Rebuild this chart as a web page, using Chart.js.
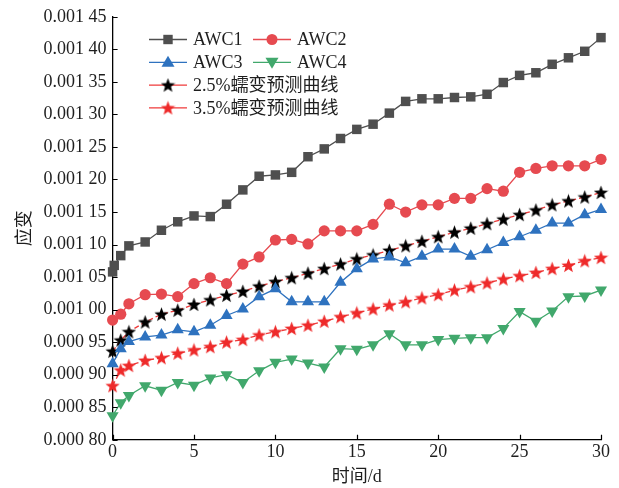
<!DOCTYPE html>
<html>
<head>
<meta charset="utf-8">
<script src="https://cdn.jsdelivr.net/npm/chart.js@4.4.1/dist/chart.umd.min.js"></script>
<style>
  html, body { margin: 0; padding: 0; background: #fff; }
  #wrap { width: 619px; height: 488px; }
</style>
</head>
<body>
<div id="wrap"><canvas id="c" width="619" height="488"></canvas></div>
<script>
// days of measurement
const daysAWC1 = [0, 0.1, 0.5, 1, 2, 3, 4, 5, 6, 7, 8, 9, 10, 11, 12, 13, 14, 15, 16, 17, 18, 19, 20, 21, 22, 23, 24, 25, 26, 27, 28, 29, 30];
const days = [0, 0.5, 1, 2, 3, 4, 5, 6, 7, 8, 9, 10, 11, 12, 13, 14, 15, 16, 17, 18, 19, 20, 21, 22, 23, 24, 25, 26, 27, 28, 29, 30];

const awc1 = [0.001058, 0.001068, 0.001083, 0.001098, 0.001104, 0.001122, 0.001135, 0.001144, 0.001143, 0.001162, 0.001184,
  0.001205, 0.001207, 0.001211, 0.001235, 0.001247, 0.001263, 0.001277, 0.001285, 0.001302, 0.001320, 0.001324,
  0.001324, 0.001326, 0.001327, 0.001331, 0.001349, 0.001360, 0.001364, 0.001377, 0.001387, 0.001397, 0.001418];
const awc2 = [0.000984, 0.000993, 0.001009, 0.001023, 0.001024, 0.001020, 0.001040, 0.001049, 0.001040, 0.001070, 0.001081,
  0.001107, 0.001108, 0.001101, 0.001121, 0.001121, 0.001121, 0.001131, 0.001162, 0.001150, 0.001161, 0.001161,
  0.001171, 0.001171, 0.001186, 0.001182, 0.001211, 0.001217, 0.001221, 0.001221, 0.001221, 0.001231];
const awc3 = [0.000917, 0.000940, 0.000951, 0.000958, 0.000961, 0.000969, 0.000966, 0.000976, 0.000991, 0.001001, 0.001020,
  0.001032, 0.001012, 0.001012, 0.001012, 0.001042, 0.001063, 0.001078, 0.001081, 0.001072, 0.001082, 0.001093,
  0.001093, 0.001082, 0.001092, 0.001103, 0.001112, 0.001122, 0.001133, 0.001133, 0.001146, 0.001154];
const awc4 = [0.000837, 0.000857, 0.000868, 0.000883, 0.000876, 0.000888, 0.000884, 0.000895, 0.000900, 0.000888, 0.000906,
  0.000919, 0.000924, 0.000918, 0.000912, 0.000940, 0.000939, 0.000946, 0.000963, 0.000946, 0.000946, 0.000954,
  0.000956, 0.000957, 0.000957, 0.000971, 0.000997, 0.000982, 0.000998, 0.001020, 0.001021, 0.001030];
const pred25 = [0.000936, 0.000953, 0.000966, 0.000981, 0.000993, 0.000999, 0.001008, 0.001015, 0.001022, 0.001028, 0.001036,
  0.001043, 0.001049, 0.001056, 0.001063, 0.001070, 0.001078, 0.001084, 0.001091, 0.001098, 0.001105, 0.001112,
  0.001119, 0.001125, 0.001132, 0.001139, 0.001146, 0.001153, 0.001161, 0.001167, 0.001173, 0.001180];
const pred35 = [0.000883, 0.000907, 0.000914, 0.000922, 0.000926, 0.000933, 0.000938, 0.000943, 0.000950, 0.000954, 0.000961,
  0.000966, 0.000971, 0.000976, 0.000982, 0.000989, 0.000995, 0.001001, 0.001007, 0.001012, 0.001018, 0.001023,
  0.001030, 0.001035, 0.001041, 0.001047, 0.001052, 0.001057, 0.001063, 0.001068, 0.001075, 0.001080];

const labels = ['AWC1', 'AWC2', 'AWC3', 'AWC4', '2.5%蠕变预测曲线', '3.5%蠕变预测曲线'];
const xTicks = [0, 5, 10, 15, 20, 25, 30];
const yTicks = [0.0008, 0.00085, 0.0009, 0.00095, 0.001, 0.00105, 0.0011, 0.00115, 0.0012, 0.00125, 0.0013, 0.00135, 0.0014, 0.00145];

const FONT = '"Liberation Serif", "Noto Sans CJK SC", serif';
const GRAY = '#4f4f4f', RED = '#e64a50', BLUE = '#2e72bf', GREEN = '#41a86c', STARRED = '#ee2a2a', DASH = '#ef3a3a';
const TXT = '#1e1e1e';

function pts(xs, ys) { return ys.map((v, i) => ({ x: xs[i], y: v })); }

function makeStar(color, size) {
  const c = document.createElement('canvas');
  c.width = size; c.height = size;
  const g = c.getContext('2d');
  const cx = size / 2, cy = size / 2 + 0.6, R = size / 2, r = R * 0.42;
  g.beginPath();
  for (let i = 0; i < 10; i++) {
    const a = -Math.PI / 2 + i * Math.PI / 5;
    const rr = i % 2 === 0 ? R : r;
    g.lineTo(cx + rr * Math.cos(a), cy + rr * Math.sin(a));
  }
  g.closePath();
  g.fillStyle = color;
  g.fill();
  return c;
}
const starBlack = makeStar('#000', 15);
const starRed = makeStar(STARRED, 15);

function fmtY(v) {
  const s = v.toFixed(5);
  return s.slice(0, 5) + ' ' + s.slice(5);
}

// inward tick marks
const innerTicks = {
  id: 'innerTicks',
  afterDraw(chart) {
    const { ctx, chartArea: a, scales } = chart;
    ctx.save();
    ctx.strokeStyle = '#000';
    ctx.lineWidth = 1.2;
    ctx.beginPath();
    xTicks.forEach(t => {
      const px = Math.round(scales.x.getPixelForValue(t)) + 0.5;
      ctx.moveTo(px, a.bottom); ctx.lineTo(px, a.bottom - 5);
    });
    yTicks.forEach(t => {
      const py = Math.round(scales.y.getPixelForValue(t)) + 0.5;
      ctx.moveTo(a.left, py); ctx.lineTo(a.left + 5, py);
    });
    ctx.stroke();
    ctx.restore();
  }
};

// legend drawn by hand: 2 columns for the first two rows
const boxLegend = {
  id: 'boxLegend',
  afterDraw(chart) {
    const ctx = chart.ctx;
    const items = [
      { col: 0, row: 0, line: GRAY, mark: 'rect', color: GRAY },
      { col: 1, row: 0, line: RED, mark: 'circle', color: RED },
      { col: 0, row: 1, line: BLUE, mark: 'tri', color: BLUE },
      { col: 1, row: 1, line: GREEN, mark: 'tridown', color: GREEN },
      { col: 0, row: 2, line: DASH, mark: starBlack },
      { col: 0, row: 3, line: DASH, mark: starRed }
    ];
    ctx.save();
    ctx.font = '18px ' + FONT;
    ctx.textBaseline = 'middle';
    items.forEach((it, i) => {
      const x0 = it.col === 0 ? 149 : 253;
      const y = 39.5 + it.row * 22.8;
      ctx.strokeStyle = it.line;
      ctx.lineWidth = 1.3;
      ctx.beginPath(); ctx.moveTo(x0, y); ctx.lineTo(x0 + 38, y); ctx.stroke();
      const mx = x0 + 19;
      ctx.fillStyle = it.color;
      if (it.mark === 'rect') {
        ctx.fillRect(mx - 4.7, y - 4.7, 9.4, 9.4);
      } else if (it.mark === 'circle') {
        ctx.beginPath(); ctx.arc(mx, y, 5.5, 0, Math.PI * 2); ctx.fill();
      } else if (it.mark === 'tri') {
        ctx.beginPath(); ctx.moveTo(mx, y - 6.5); ctx.lineTo(mx + 6.5, y + 4.5); ctx.lineTo(mx - 6.5, y + 4.5); ctx.closePath(); ctx.fill();
      } else if (it.mark === 'tridown') {
        ctx.beginPath(); ctx.moveTo(mx, y + 6.5); ctx.lineTo(mx + 6.5, y - 4.5); ctx.lineTo(mx - 6.5, y - 4.5); ctx.closePath(); ctx.fill();
      } else {
        ctx.drawImage(it.mark, mx - 7.5, y - 7.5);
      }
      ctx.fillStyle = TXT;
      ctx.fillText(labels[i], x0 + 44, y + 1);
    });
    ctx.restore();
  }
};

const common = { borderWidth: 1.3, pointBorderWidth: 0, showLine: true, clip: false, tension: 0 };

new Chart(document.getElementById('c'), {
  type: 'scatter',
  data: {
    datasets: [
      { ...common, label: labels[0], data: pts(daysAWC1, awc1), borderColor: GRAY, backgroundColor: GRAY, pointStyle: 'rect', pointRadius: 6.7 },
      { ...common, label: labels[1], data: pts(days, awc2), borderColor: RED, backgroundColor: RED, pointStyle: 'circle', pointRadius: 5.6 },
      { ...common, label: labels[2], data: pts(days, awc3), borderColor: BLUE, backgroundColor: BLUE, pointStyle: 'triangle', pointRadius: 7 },
      { ...common, label: labels[3], data: pts(days, awc4), borderColor: GREEN, backgroundColor: GREEN, pointStyle: 'triangle', pointRotation: 180, pointRadius: 7 },
      { ...common, label: labels[4], data: pts(days, pred25), borderColor: DASH, backgroundColor: '#000', borderDash: [5, 3], pointStyle: starBlack, pointRadius: 7 },
      { ...common, label: labels[5], data: pts(days, pred35), borderColor: DASH, backgroundColor: STARRED, borderDash: [5, 3], pointStyle: starRed, pointRadius: 7 }
    ]
  },
  options: {
    responsive: false,
    animation: false,
    layout: { padding: { left: 14, right: 18, top: 4, bottom: 0 } },
    plugins: { legend: { display: false }, tooltip: { enabled: false } },
    scales: {
      x: {
        type: 'linear', min: 0, max: 30,
        afterBuildTicks: s => { s.ticks = xTicks.map(v => ({ value: v })); },
        grid: { display: true, drawOnChartArea: false, drawTicks: false },
        border: { display: true, color: '#000', width: 1.3 },
        ticks: { color: TXT, font: { family: FONT, size: 18 }, padding: 2, maxRotation: 0 },
        title: { display: true, text: '时间/d', color: TXT, font: { family: FONT, size: 18 }, padding: { top: 1, bottom: 0 } }
      },
      y: {
        type: 'linear', min: 0.0008, max: 0.00145,
        afterBuildTicks: s => { s.ticks = yTicks.map(v => ({ value: v })); },
        grid: { display: true, drawOnChartArea: false, drawTicks: false },
        border: { display: true, color: '#000', width: 1.3 },
        ticks: { color: TXT, font: { family: FONT, size: 18 }, padding: 6, callback: v => fmtY(v) },
        title: { display: true, text: '应变', color: TXT, font: { family: FONT, size: 18 }, padding: { top: 0, bottom: 2 } }
      }
    }
  },
  plugins: [innerTicks, boxLegend]
});
</script>
</body>
</html>
